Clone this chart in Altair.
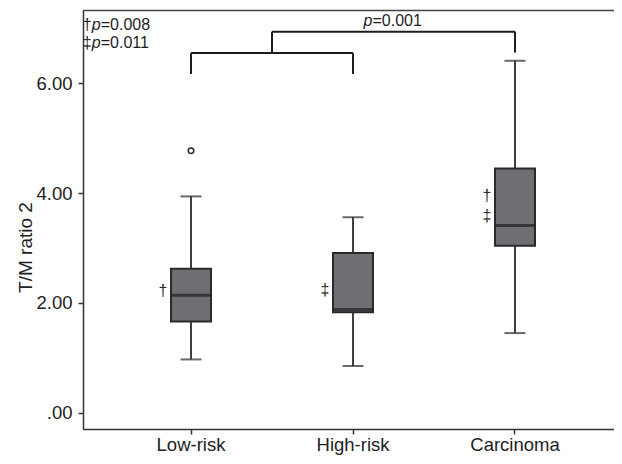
import altair as alt
import pandas as pd

# ---- data ----
CATEGORIES = ["Low-risk", "High-risk", "Carcinoma"]
WHISKER_LOW = [0.97, 0.85, 1.45]
Q1 = [1.66, 1.83, 3.04]
MEDIAN = [2.14, 1.88, 3.41]
Q3 = [2.62, 2.91, 4.45]
WHISKER_HIGH = [3.94, 3.56, 6.41]

OUTLIER_CAT = ["Low-risk"]
OUTLIER_VAL = [4.77]

MARK_CAT = ["Low-risk", "High-risk", "Carcinoma", "Carcinoma"]
MARK_VAL = [2.22, 2.24, 3.95, 3.58]
MARK_SYM = ["\u2020", "\u2021", "\u2020", "\u2021"]

# significance brackets (category index units / y units)
SEG_X1 = [0, 0, 1, 0.5, 0.5, 2]
SEG_X2 = [0, 1, 1, 0.5, 2, 2]
SEG_Y1 = [6.17, 6.55, 6.17, 6.55, 6.94, 6.56]
SEG_Y2 = [6.55, 6.55, 6.55, 6.94, 6.94, 6.94]

# p-value notes
NOTE_X = [-0.557, -0.557, 1.12]
NOTE_Y = [7.07, 6.73, 7.13]
NOTE_PREFIX = ["\u2020", "\u2021", ""]
NOTE_VALUE = ["=0.008", "=0.011", "=0.001"]

Y_TICKS = [0, 2, 4, 6]
Y_DOMAIN = [-0.297, 7.335]
X_IDX_DOMAIN = [-2 / 3, 2.611]

FONT = "Liberation Sans"
BOX_FILL = "#6e6f73"
INK = "#2a2a2a"

boxes = pd.DataFrame({
    "cat": CATEGORIES, "lo": WHISKER_LOW, "q1": Q1, "med": MEDIAN,
    "q3": Q3, "hi": WHISKER_HIGH,
})
outliers = pd.DataFrame({"cat": OUTLIER_CAT, "v": OUTLIER_VAL})
marks = pd.DataFrame({"cat": MARK_CAT, "v": MARK_VAL, "sym": MARK_SYM})
segs = pd.DataFrame({"x1": SEG_X1, "x2": SEG_X2, "y1": SEG_Y1, "y2": SEG_Y2})
notes = pd.DataFrame({"x": NOTE_X, "y": NOTE_Y, "pre": NOTE_PREFIX, "val": NOTE_VALUE, "p": ["p"] * 3})

ysc = alt.Scale(domain=Y_DOMAIN, nice=False, zero=False)
xband = alt.X(
    "cat:N", sort=CATEGORIES, title=None,
    scale=alt.Scale(type="band", paddingInner=0, paddingOuter=0.139, align=0.6),
    axis=alt.Axis(labelAngle=0, labelFontSize=18.5, labelPadding=1, tickSize=5,
                  labelColor="#222", domainColor="#333", domainWidth=1.5,
                  tickColor="#333", tickWidth=1.5),
)
yaxis = alt.Axis(values=Y_TICKS, grid=False, tickSize=5, labelPadding=6,
                 labelFontSize=18.5, labelColor="#222",
                 labelExpr="datum.value == 0 ? '.00' : format(datum.value, '.2f')",
                 domainColor="#333", domainWidth=1.5, tickColor="#333", tickWidth=1.5,
                 title="T/M ratio 2", titleFontSize=19, titleFontWeight="normal",
                 titleColor="#222", titleAngle=270, titleX=-58, titleY=237,
                 titleAlign="center", titleBaseline="middle")

base = alt.Chart(boxes)
whisk = base.mark_rule(color=INK, strokeWidth=1.8).encode(
    x=xband, y=alt.Y("lo:Q", scale=ysc, axis=yaxis), y2="hi:Q")
cap_lo = base.mark_tick(color=INK, size=21, thickness=2).encode(x=xband, y=alt.Y("lo:Q", scale=ysc))
cap_hi = base.mark_tick(color=INK, size=21, thickness=2).encode(x=xband, y=alt.Y("hi:Q", scale=ysc))
box = base.mark_bar(size=40, color=BOX_FILL, stroke=INK, strokeWidth=2).encode(
    x=xband, y=alt.Y("q1:Q", scale=ysc), y2="q3:Q")
med = base.mark_tick(color="#1e1e1e", size=40, thickness=3).encode(x=xband, y=alt.Y("med:Q", scale=ysc))
outl = alt.Chart(outliers).mark_point(shape="circle", filled=False, size=30, color=INK,
                                      strokeWidth=1.5, opacity=1).encode(x=xband, y=alt.Y("v:Q", scale=ysc))
syms = alt.Chart(marks).mark_text(fontSize=16, dx=-28, color=INK, baseline="middle").encode(
    x=xband, y=alt.Y("v:Q", scale=ysc), text="sym:N")

top_axis = alt.Axis(orient="top", labels=False, ticks=False, title=None, grid=False,
                    domain=True, domainColor="#444", domainWidth=1.5)
xq = lambda f: alt.X(f, scale=alt.Scale(domain=X_IDX_DOMAIN, nice=False, zero=False), axis=top_axis)
brackets = alt.Chart(segs).mark_rule(color="#1e1e1e", strokeWidth=2).encode(
    x=xq("x1:Q"), x2="x2:Q", y=alt.Y("y1:Q", scale=ysc), y2="y2:Q")
note_val = alt.Chart(notes).mark_text(fontSize=16, align="left", baseline="middle", color="#1e1e1e").encode(
    x=xq("x:Q"), y=alt.Y("y:Q", scale=ysc), text="val:N")
note_p = alt.Chart(notes).mark_text(fontSize=16, align="right", baseline="middle", fontStyle="italic",
                                    color="#1e1e1e").encode(
    x=xq("x:Q"), y=alt.Y("y:Q", scale=ysc), text="p:N")
note_pre = alt.Chart(notes).mark_text(fontSize=16, align="right", baseline="middle", dx=-9,
                                      color="#1e1e1e").encode(
    x=xq("x:Q"), y=alt.Y("y:Q", scale=ysc), text="pre:N")

nominal_layer = alt.layer(whisk, cap_lo, cap_hi, box, med, outl, syms)
annot_layer = alt.layer(brackets, note_val, note_p, note_pre)

chart = alt.layer(nominal_layer, annot_layer).resolve_scale(x="independent").properties(
    width=531, height=419,
    autosize=alt.AutoSizeParams(type="none"),
    padding={"left": 75, "top": 2, "right": 0, "bottom": 27},
).configure(font=FONT).configure_view(stroke=None)

chart.save("out.html", embed_options={"renderer": "svg", "actions": False})
